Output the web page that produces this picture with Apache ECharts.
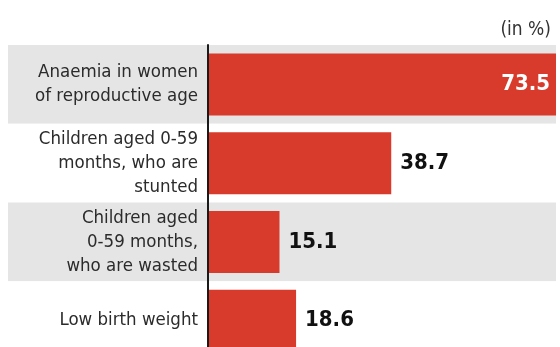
<!DOCTYPE html>
<html>
<head>
<meta charset="utf-8">
<script src="https://cdn.jsdelivr.net/npm/echarts@6/dist/echarts.min.js"></script>
<style>
  html, body { margin: 0; padding: 0; background: #fff; overflow: hidden; }
  /* last row is cropped by the window, like the source image */
  #chart { width: 560px; height: 360px; }
</style>
</head>
<body>
<div id="chart"></div>
<script>
const categories = [
  'Anaemia in women\nof reproductive age',
  'Children aged 0-59\nmonths, who are\nstunted',
  'Children aged\n0-59 months,\nwho are wasted',
  'Low birth weight'
]
const values = [73.5, 38.7, 15.1, 18.6]
const unitLabel = '(in %)'

const font = '"DejaVu Sans Condensed", "Liberation Sans Narrow", sans-serif'
const maxVal = Math.max(...values)

const chart = echarts.init(document.getElementById('chart'))

chart.setOption({
  animation: false,
  title: {
    text: unitLabel,
    right: 4,
    top: 16,
    textStyle: { fontFamily: font, fontSize: 19, fontWeight: 'normal', color: '#333' }
  },
  grid: [
    // bars
    { left: 208, right: 4, top: 45, bottom: 0 },
    // row backgrounds across the label area
    { left: 8, right: 4, top: 45, bottom: 0 }
  ],
  xAxis: [
    { gridIndex: 0, type: 'value', min: 0, max: maxVal, show: false },
    { gridIndex: 1, type: 'value', min: 0, max: 1, show: false }
  ],
  yAxis: [
    {
      gridIndex: 0,
      type: 'category',
      inverse: true,
      data: categories,
      axisLine: { show: true, lineStyle: { color: '#1a1a1a', width: 2 } },
      axisTick: { show: false },
      axisLabel: {
        margin: 10,
        fontFamily: font,
        fontSize: 18.5,
        lineHeight: 24,
        color: '#2b2b2b',
        align: 'right'
      },
      z: 5
    },
    {
      gridIndex: 1,
      type: 'category',
      inverse: true,
      data: categories,
      axisLine: { show: false },
      axisTick: { show: false },
      axisLabel: { show: false },
      splitArea: { show: true, areaStyle: { color: ['#e5e5e5', '#ffffff'] } }
    }
  ],
  series: [{
    type: 'bar',
    xAxisIndex: 0,
    yAxisIndex: 0,
    barWidth: 62,
    z: 3,
    itemStyle: { color: '#d83a2b' },
    label: {
      show: true,
      position: 'right',
      distance: 9,
      fontFamily: font,
      fontSize: 22,
      fontWeight: 'bold',
      color: '#111'
    },
    data: values.map(v => v === maxVal
      ? { value: v, label: { position: 'insideRight', distance: 6, color: '#fff' } }
      : v)
  }]
})
</script>
</body>
</html>
